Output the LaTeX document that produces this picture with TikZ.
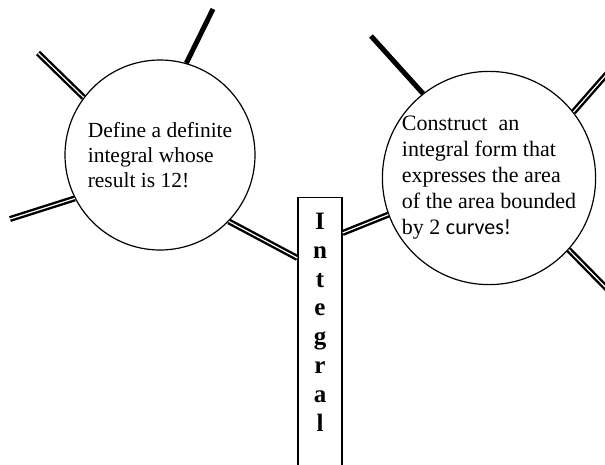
\documentclass[tikz,border=0pt]{standalone}
\usepackage{fontspec}
\setmainfont{Liberation Serif}
\newfontfamily\curvefont{Carlito}
\usetikzlibrary{positioning}

\begin{document}
\begin{tikzpicture}[x=1pt,y=-1pt,bubble/.style={circle,draw,line width=1.2pt,align=left,inner sep=0pt},wordbox/.style={rectangle,draw,line width=1.2pt,minimum width=44pt,minimum height=290pt,anchor=north,inner sep=0pt},spoke/.style={line width=2.4pt,double=white,double distance=1.2pt},solidspoke/.style={line width=5pt}]
\fill[white] (0,0) rectangle (605,464);
\useasboundingbox (0,0) rectangle (605,464);
\node[bubble,minimum size=190pt,font=\fontsize{21.5}{25}\selectfont] (def) at (160,155) {Define a definite\\integral whose\\result is 12!};
\node[bubble,minimum size=212pt,font=\fontsize{22}{26}\selectfont] (cons) at (489,178) {Construct\ \ an\\integral form that\\expresses the area\\of the area bounded\\by 2 {\curvefont curves!}};
\node[wordbox] (integral) at (320,197) {};
\node[below=16pt of integral.north,align=center,inner sep=0pt,font=\bfseries\fontsize{25}{28.8}\selectfont] (word) {I\\n\\t\\e\\g\\r\\a\\l};
% free ends of the spokes
\coordinate (d1) at (38,53); \coordinate (d2) at (213,9); \coordinate (d3) at (10,219);
\coordinate (c1) at (371,36); \coordinate (c2) at (620,59); \coordinate (c3) at (620,302);
\draw[spoke] (def.143) -- (d1); \draw[solidspoke] (def.74) -- (d2); \draw[spoke] (def.207) -- (d3);
\draw[solidspoke] (cons.128) -- (c1); \draw[spoke] (cons.38) -- (c2); \draw[spoke] (cons.-42) -- (c3);
\draw[spoke] (def.-44) -- ([yshift=-61pt]integral.north west);
\draw[spoke] (cons.200) -- ([yshift=-36pt]integral.north east);
\end{tikzpicture}
\end{document}
